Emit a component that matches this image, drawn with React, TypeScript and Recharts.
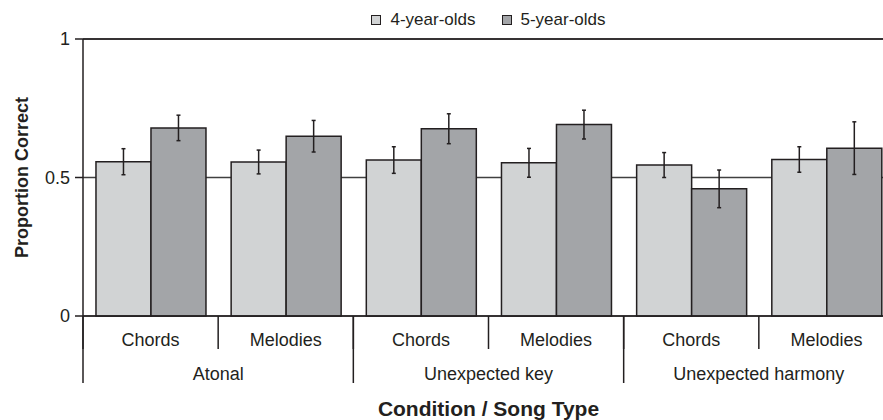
import {
  BarChart,
  Bar,
  XAxis,
  YAxis,
  CartesianGrid,
  ErrorBar,
  Legend,
  ReferenceLine,
} from 'recharts';

const songTypes = ['Chords', 'Melodies', 'Chords', 'Melodies', 'Chords', 'Melodies'];
const conditions = [
  'Atonal',
  'Atonal',
  'Unexpected key',
  'Unexpected key',
  'Unexpected harmony',
  'Unexpected harmony',
];
const fourYearMeans = [0.557, 0.556, 0.563, 0.553, 0.545, 0.565];
const fourYearErrors = [0.047, 0.043, 0.048, 0.052, 0.045, 0.046];
const fiveYearMeans = [0.679, 0.649, 0.676, 0.691, 0.459, 0.606];
const fiveYearErrors = [0.046, 0.057, 0.054, 0.052, 0.068, 0.095];
const yTicks = [0, 0.5, 1];

const seriesNames = { four: '4-year-olds', five: '5-year-olds' };

const INK = '#231f20';
const LIGHT = '#d1d3d4';
const DARK = '#a3a5a8';
const FONT = '"Liberation Sans", Arial, sans-serif';

interface Row {
  song: string;
  condition: string;
  four: number;
  fourErr: number;
  five: number;
  fiveErr: number;
}

const data: Row[] = songTypes.map((song, i) => ({
  song,
  condition: conditions[i],
  four: fourYearMeans[i],
  fourErr: fourYearErrors[i],
  five: fiveYearMeans[i],
  fiveErr: fiveYearErrors[i],
}));

// inner row: song type label plus a short divider at each category edge
function SongTick(props: any) {
  const { x, y, payload, visibleTicksCount } = props;
  const half = payload.offset ?? 0;
  const last = payload.index === visibleTicksCount - 1;
  return (
    <g>
      <line x1={x - half} x2={x - half} y1={y} y2={y + 33} stroke={INK} strokeWidth={1.5} />
      {last && (
        <line x1={x + half} x2={x + half} y1={y} y2={y + 33} stroke={INK} strokeWidth={1.5} />
      )}
      <text x={x} y={y + 30} textAnchor="middle" fontSize={18} fill={INK} fontFamily={FONT}>
        {payload.value}
      </text>
    </g>
  );
}

// outer row: condition label with a tall divider reaching up to the baseline
function ConditionTick(props: any) {
  const { x, y, payload, visibleTicksCount } = props;
  const half = payload.offset ?? 0;
  const last = payload.index === visibleTicksCount - 1;
  return (
    <g>
      <line x1={x - half} x2={x - half} y1={y - 33} y2={y + 34} stroke={INK} strokeWidth={1.5} />
      {last && (
        <line x1={x + half} x2={x + half} y1={y - 33} y2={y + 34} stroke={INK} strokeWidth={1.5} />
      )}
      <text x={x} y={y + 31} textAnchor="middle" fontSize={18} fill={INK} fontFamily={FONT}>
        {payload.value}
      </text>
    </g>
  );
}

function LegendBox({ payload }: any) {
  return (
    <div
      style={{
        display: 'flex',
        justifyContent: 'center',
        gap: 26,
        fontFamily: FONT,
        fontSize: 17,
        lineHeight: '20px',
        color: INK,
      }}
    >
      {(payload ?? []).map((entry: any) => (
        <div key={entry.value} style={{ display: 'flex', alignItems: 'center' }}>
          <span
            style={{
              display: 'inline-block',
              width: 8,
              height: 8,
              background: entry.color,
              border: `1px solid ${INK}`,
              marginRight: 9,
            }}
          />
          <span>{entry.value}</span>
        </div>
      ))}
    </div>
  );
}

export default function App() {
  return (
    <div
      style={{
        position: 'absolute',
        left: 0,
        top: 0,
        width: 883,
        height: 420,
        overflow: 'hidden',
        background: '#fff',
      }}
    >
      <BarChart
        width={900}
        height={420}
        data={data}
        margin={{ top: 39, right: 6, bottom: 0, left: 0 }}
        barCategoryGap="9.6%"
        barGap={0}
        style={{ fontFamily: FONT }}
      >
        <CartesianGrid xAxisId="inner" vertical={false} stroke="#404040" strokeWidth={1.5} />
        <ReferenceLine xAxisId="inner" y={1} stroke={INK} strokeWidth={1.5} />
        <XAxis
          xAxisId="inner"
          dataKey="song"
          height={33}
          interval={0}
          tickLine={false}
          tickSize={0}
          tickMargin={0}
          axisLine={{ stroke: INK, strokeWidth: 1.5 }}
          tick={(p: any) => <SongTick {...p} />}
        />
        <XAxis
          xAxisId="outer"
          dataKey="condition"
          allowDuplicatedCategory={false}
          height={71}
          interval={0}
          tickLine={false}
          tickSize={0}
          tickMargin={0}
          axisLine={false}
          tick={(p: any) => <ConditionTick {...p} />}
          label={{
            value: 'Condition / Song Type',
            position: 'insideBottom',
            offset: 4,
            fill: INK,
            fontSize: 21,
            fontWeight: 'bold',
            fontFamily: FONT,
          }}
        />
        <YAxis
          width={83}
          domain={[0, 1]}
          ticks={yTicks}
          tickSize={8}
          tickMargin={5}
          axisLine={{ stroke: INK, strokeWidth: 1.5 }}
          tickLine={{ stroke: INK, strokeWidth: 1.5 }}
          tick={{ fill: INK, fontSize: 18, fontFamily: FONT }}
          label={{
            value: 'Proportion Correct',
            angle: -90,
            position: 'center',
            dx: -20,
            fill: INK,
            fontSize: 18,
            fontWeight: 'bold',
            fontFamily: FONT,
          }}
        />
        <Legend
          layout="horizontal"
          verticalAlign="middle"
          align="center"
          wrapperStyle={{ top: 10, left: 83, width: 811 }}
          content={(p: any) => <LegendBox {...p} />}
        />
        <Bar
          xAxisId="inner"
          dataKey="four"
          name={seriesNames.four}
          fill={LIGHT}
          stroke={INK}
          strokeWidth={1.5}
          isAnimationActive={false}
        >
          <ErrorBar dataKey="fourErr" width={2} stroke={INK} strokeWidth={1.5} direction="y" />
        </Bar>
        <Bar
          xAxisId="inner"
          dataKey="five"
          name={seriesNames.five}
          fill={DARK}
          stroke={INK}
          strokeWidth={1.5}
          isAnimationActive={false}
        >
          <ErrorBar dataKey="fiveErr" width={2} stroke={INK} strokeWidth={1.5} direction="y" />
        </Bar>
      </BarChart>
    </div>
  );
}
